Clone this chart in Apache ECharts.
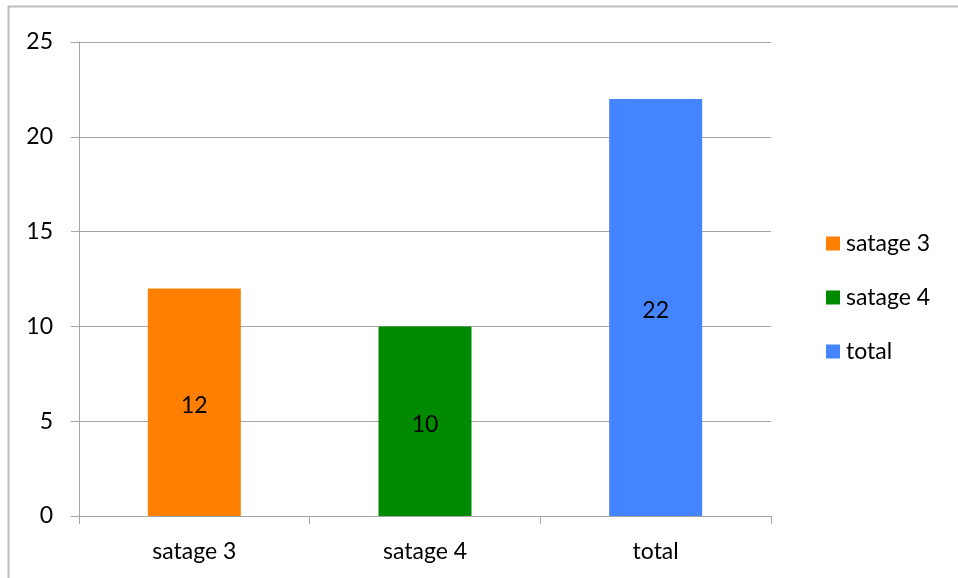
<!DOCTYPE html>
<html><head><meta charset="utf-8">
<script src="https://cdn.jsdelivr.net/npm/echarts@6/dist/echarts.min.js"></script>
<style>html,body{margin:0;padding:0;background:#fff}#c{width:958px;height:578px}</style>
</head><body><div id="c"></div>
<script>
const categories = ['satage 3', 'satage 4', 'total'];
const seriesNames = ['satage 3', 'satage 4', 'total'];
const values = [12, 10, 22];
const colors = ['#FF8000', '#008A00', '#4485FF'];
const yTicks = [0, 5, 10, 15, 20, 25];

const font = 'Lato, "Open Sans", sans-serif';
const fs = 23;
const chart = echarts.init(document.getElementById('c'));
const series = seriesNames.map((n, i) => ({
  name: n,
  type: 'bar',
  stack: 's',
  barWidth: 93,
  data: categories.map((c, j) => j === i ? values[i] : '-'),
  itemStyle: { color: colors[i] },
  label: { show: true, position: 'inside', offset: [0, 3], color: '#000', fontSize: fs, fontFamily: font },
  emphasis: { disabled: true }
}));
chart.setOption({
  animation: false,
  backgroundColor: '#fff',
  graphic: [{ type: 'rect', shape: { x: 8.5, y: 6.5, width: 1000, height: 700 }, style: { fill: 'none', stroke: '#bdbdbd', lineWidth: 2 }, z: 0 }],
  grid: { left: 79, right: 187, top: 42, bottom: 62 },
  legend: {
    orient: 'vertical', left: 821, top: 227, itemGap: 31, itemWidth: 14, itemHeight: 14,
    icon: 'rect',
    textStyle: { fontSize: fs, color: '#000', fontFamily: font, padding: [0, 0, 0, 1] },
    data: seriesNames
  },
  xAxis: {
    type: 'category', data: categories,
    axisLine: { lineStyle: { color: '#a6a6a6', width: 1 } },
    axisTick: { show: true, length: 8, lineStyle: { color: '#a6a6a6' } },
    axisLabel: { fontSize: fs, color: '#000', fontFamily: font, margin: 24 }
  },
  yAxis: {
    type: 'value', min: yTicks[0], max: yTicks[yTicks.length - 1], interval: 5,
    axisLine: { show: true, lineStyle: { color: '#a6a6a6' } },
    axisTick: { show: true, length: 8, lineStyle: { color: '#a6a6a6' } },
    splitLine: { lineStyle: { color: '#a6a6a6' } },
    axisLabel: { fontSize: fs, color: '#000', fontFamily: font, margin: 26 }
  },
  series
});
</script></body></html>
